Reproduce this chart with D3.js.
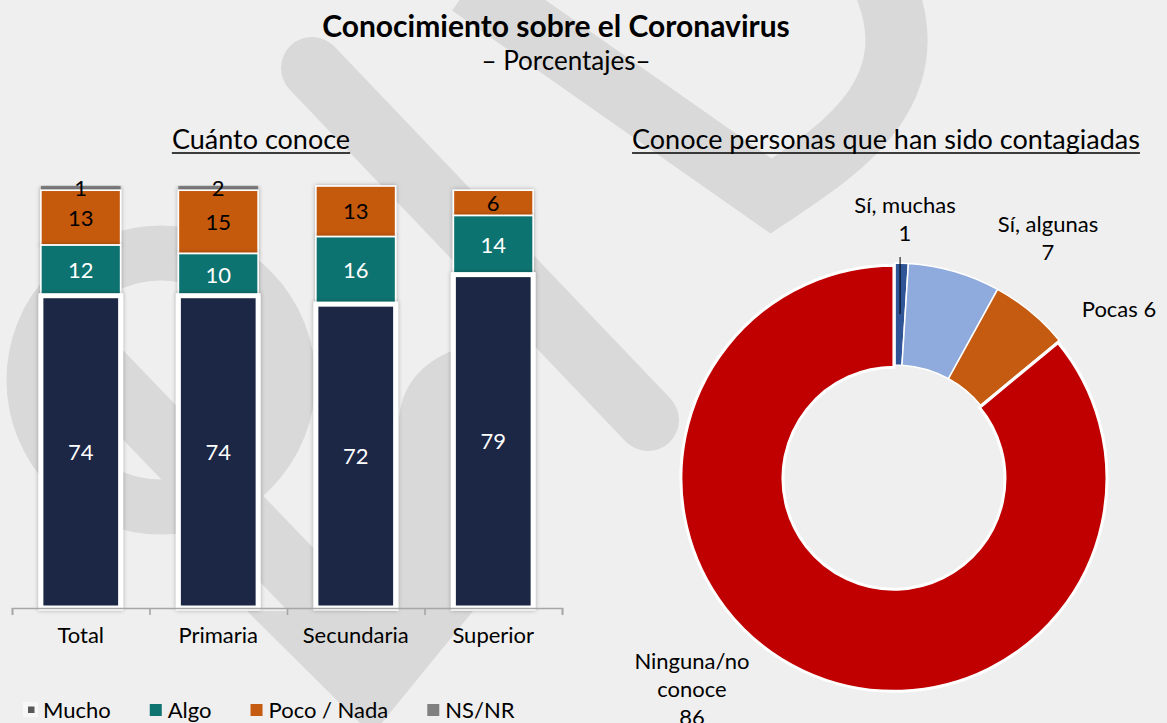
<!DOCTYPE html>
<html>
<head>
<meta charset="utf-8">
<script src="https://cdn.jsdelivr.net/npm/d3@7"></script>
<style>
  html, body { margin: 0; padding: 0; background: #efefef; }
  svg { display: block; font-family: Lato, "Open Sans", sans-serif; }
</style>
</head>
<body>
<div id="chart"></div>
<script>
// Bar chart: Cuánto conoce
const categories = ["Total", "Primaria", "Secundaria", "Superior"];
const mucho = [74, 74, 72, 79];
const algo = [12, 10, 16, 14];
const pocoNada = [13, 15, 13, 6];
const nsnr = [1, 2, 0, 0];
const seriesNames = ["Mucho", "Algo", "Poco / Nada", "NS/NR"];
const seriesColors = ["#1b2744", "#0f7370", "#c55a11", "#808080"];

// Donut: Conoce personas que han sido contagiadas
const donutLabels = ["Sí, muchas", "Sí, algunas", "Pocas", "Ninguna/no conoce"];
const donutValues = [1, 7, 6, 86];
const donutColors = ["#2f5597", "#8faadc", "#c55a11", "#c00000"];

const W = 1167, H = 723;

const svg = d3.select("#chart")
  .append("svg")
    .attr("width", W)
    .attr("height", H);

const defs = svg.append("defs");
defs.append("filter")
    .attr("id", "shadow")
    .attr("x", "-20%").attr("y", "-20%")
    .attr("width", "140%").attr("height", "140%")
  .append("feDropShadow")
    .attr("dx", 0).attr("dy", 0)
    .attr("stdDeviation", 2)
    .attr("flood-color", "#000")
    .attr("flood-opacity", 0.3);

svg.append("rect")
    .attr("width", W).attr("height", H)
    .attr("fill", "#efefef");

// Watermark in the background
const wm = svg.append("g").attr("fill", "none").attr("stroke", "#d9d9d9");
wm.append("path")
    .attr("d", "M470,-15 L771,196 C840,150 935,90 880,-25")
    .attr("stroke-width", 62)
    .attr("stroke-linejoin", "miter");
wm.append("line")
    .attr("x1", 312).attr("y1", 68).attr("x2", 648).attr("y2", 420)
    .attr("stroke-width", 62)
    .attr("stroke-linecap", "round");
wm.append("circle")
    .attr("cx", 161).attr("cy", 380).attr("r", 127)
    .attr("stroke-width", 55);
wm.append("line")
    .attr("x1", 75).attr("y1", 345).attr("x2", 330).attr("y2", 610)
    .attr("stroke-width", 62)
    .attr("stroke-linecap", "round");
wm.append("path")
    .attr("d", "M425,611 L425,420 Q428,385 470,372")
    .attr("stroke-width", 52);
wm.append("path")
    .attr("d", "M247,611 L473,611 L372,735 Z")
    .attr("fill", "#d9d9d9")
    .attr("stroke", "none");

// Titles
svg.append("text")
    .attr("x", 556).attr("y", 37)
    .attr("text-anchor", "middle")
    .style("font-size", "30px")
    .style("font-weight", "bold")
    .attr("fill", "#000")
    .text("Conocimiento sobre el Coronavirus");
svg.append("text")
    .attr("x", 566).attr("y", 70)
    .attr("text-anchor", "middle")
    .style("font-size", "26px")
    .attr("fill", "#000")
    .text("– Porcentajes–");

function sectionTitle(x, y, label) {
  const t = svg.append("text")
      .attr("x", x).attr("y", y)
      .attr("text-anchor", "middle")
      .style("font-size", "27px")
      .attr("fill", "#000")
      .text(label);
  const w = t.node().getComputedTextLength();
  svg.append("line")
      .attr("x1", x - w / 2).attr("x2", x + w / 2)
      .attr("y1", y + 4).attr("y2", y + 4)
      .attr("stroke", "#000").attr("stroke-width", 1.6);
}
sectionTitle(261, 149, "Cuánto conoce");
sectionTitle(886, 149, "Conoce personas que han sido contagiadas");

// ---- Stacked bars ----
const x = d3.scaleBand()
    .domain(categories)
    .range([12, 562])
    .paddingInner(0.42)
    .paddingOuter(0.21);

const y = d3.scaleLinear()
    .domain([0, 100])
    .range([608, 186])
    .clamp(true);

const rows = categories.map((c, i) => ({
  cat: c,
  "Mucho": mucho[i],
  "Algo": algo[i],
  "Poco / Nada": pocoNada[i],
  "NS/NR": nsnr[i]
}));

const stacked = d3.stack().keys(seriesNames)(rows);

// draw top series first so the thick white frame of "Mucho" sits on top
const barLayer = svg.append("g");
stacked.slice().reverse().forEach(series => {
  const si = seriesNames.indexOf(series.key);
  barLayer.append("g")
      .attr("filter", "url(#shadow)")
    .selectAll("rect")
    .data(series.filter(d => d[1] - d[0] > 0))
    .enter()
    .append("rect")
      .attr("x", d => x(d.data.cat))
      .attr("width", x.bandwidth())
      .attr("y", d => y(d[1]))
      .attr("height", d => y(d[0]) - y(d[1]))
      .attr("fill", seriesColors[si])
      .attr("stroke", si === 3 ? "none" : "#fff")
      .attr("stroke-width", si === 0 ? 5 : 1.6);
});

// data labels
stacked.forEach((series, si) => {
  svg.append("g")
    .selectAll("text")
    .data(series.filter(d => d[1] - d[0] > 0))
    .enter()
    .append("text")
      .attr("x", d => x(d.data.cat) + x.bandwidth() / 2)
      .attr("y", d => (y(d[0]) + y(d[1])) / 2)
      .attr("dy", "0.36em")
      .attr("text-anchor", "middle")
      .style("font-size", "22px")
      .attr("fill", si < 2 ? "#fff" : "#000")
      .text(d => d[1] - d[0]);
});

// x axis: ticks at category boundaries, labels centered
const boundary = d3.scaleLinear().domain([0, categories.length]).range([12, 562]);
svg.append("g")
    .attr("transform", "translate(0,608)")
    .call(d3.axisBottom(boundary)
      .ticks(categories.length)
      .tickSize(7)
      .tickSizeOuter(7)
      .tickFormat(""))
    .call(g => g.selectAll("path, line")
      .attr("stroke", "#a6a6a6")
      .attr("stroke-width", 1.6));

svg.append("g")
    .attr("transform", "translate(0,608)")
    .call(d3.axisBottom(x).tickSize(0).tickPadding(19))
    .call(g => g.select(".domain").remove())
    .call(g => g.selectAll("text")
      .style("font-family", "Lato, sans-serif")
      .style("font-size", "22px")
      .attr("fill", "#000"));

// legend
const legend = svg.append("g");
let lx = 25;
seriesNames.forEach((name, i) => {
  const item = legend.append("g");
  if (i === 0) {
    item.append("rect")
        .attr("x", lx - 2).attr("y", 702)
        .attr("width", 15).attr("height", 15)
        .attr("fill", "#f7f7f7");
    item.append("rect")
        .attr("x", lx + 3).attr("y", 706.5)
        .attr("width", 6.5).attr("height", 6.5)
        .attr("fill", "#595959");
  } else {
    item.append("rect")
        .attr("x", lx).attr("y", 704)
        .attr("width", 12).attr("height", 12)
        .attr("fill", seriesColors[i]);
  }
  const t = item.append("text")
      .attr("x", lx + 18).attr("y", 718)
      .style("font-size", "22px")
      .attr("fill", "#000")
      .text(name);
  lx = lx + 18 + t.node().getComputedTextLength() + 39;
});

// ---- Donut ----
const cx = 895, cy = 476;
const pie = d3.pie().sort(null).value(d => d)(donutValues);
const arc = d3.arc().innerRadius(111).outerRadius(213);

const donut = svg.append("g").attr("transform", `translate(${cx},${cy})`);
donut.selectAll("path")
  .data(pie)
  .enter()
  .append("path")
    .attr("d", arc)
    .attr("fill", (d, i) => donutColors[i])
    .attr("stroke", "#fff")
    .attr("stroke-width", (d, i) => i === 3 ? 3 : 1.5)
    .attr("transform", (d, i) => {
      if (i !== 3) return null;
      const a = (d.startAngle + d.endAngle) / 2;
      return `translate(${2.5 * Math.sin(a)},${-2.5 * Math.cos(a)})`;
    });

// donut data labels (Excel best-fit placement)
const labelPlace = [
  {x: 905, y: 205, mode: "stack"},
  {x: 1048, y: 224, mode: "stack"},
  {x: 1119, y: 309, mode: "inline"},
  {x: 692, y: 661, mode: "wrap"}
];
donutLabels.forEach((lab, i) => {
  const p = labelPlace[i];
  let lines;
  if (p.mode === "stack") lines = [lab, String(donutValues[i])];
  else if (p.mode === "inline") lines = [lab + " " + donutValues[i]];
  else lines = lab.split(" ").concat([String(donutValues[i])]);
  const t = svg.append("text")
      .attr("text-anchor", "middle")
      .style("font-size", "22px")
      .attr("fill", "#000");
  lines.forEach((ln, k) => {
    t.append("tspan")
        .attr("x", p.x)
        .attr("y", p.y + k * 28)
        .attr("dy", "0.35em")
        .text(ln);
  });
});

// leader line for the smallest slice
const c0 = arc.centroid(pie[0]);
svg.append("line")
    .attr("x1", cx + c0[0]).attr("x2", cx + c0[0])
    .attr("y1", 257).attr("y2", cy + c0[1])
    .attr("stroke", "#000").attr("stroke-width", 1);
</script>
</body>
</html>
